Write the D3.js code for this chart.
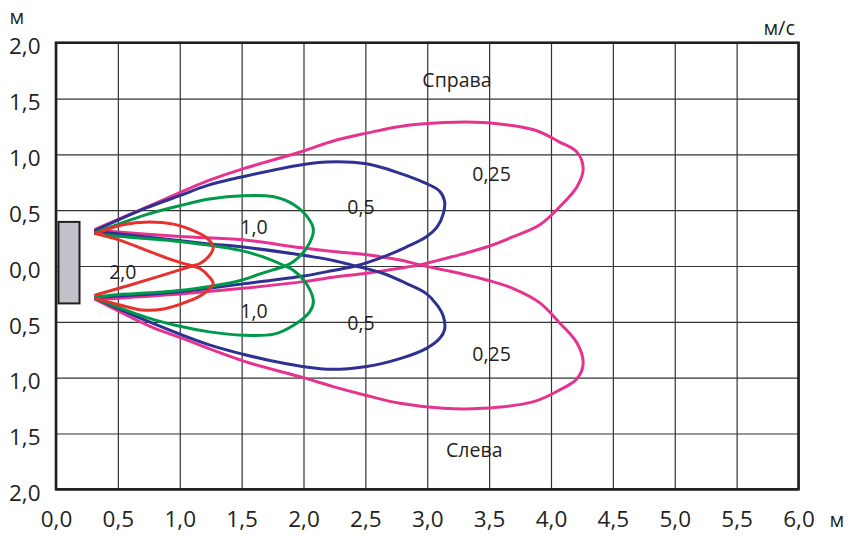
<!DOCTYPE html>
<html>
<head>
<meta charset="utf-8">
<script src="https://cdn.jsdelivr.net/npm/d3@7"></script>
<style>
  html, body { margin: 0; padding: 0; background: #fff; }
  svg { display: block; }
  text { font-family: "Open Sans", "DejaVu Sans", sans-serif; fill: #231f20; }
</style>
</head>
<body>
<svg id="chart" width="856" height="536"></svg>
<script>
// ---------- data ----------
const xTicks = [0, 0.5, 1, 1.5, 2, 2.5, 3, 3.5, 4, 4.5, 5, 5.5, 6];
const yTicks = [2, 1.5, 1, 0.5, 0, -0.5, -1, -1.5, -2];

// velocity levels (m/s)
const levels = ["0,25", "0,5", "1,0", "2,0"];

// upper lobes (Справа) : from upper outlet, around, back across axis to lower outlet
const pinkUpper = [[0.32,0.33],[0.76,0.54],[1.22,0.76],[1.51,0.87],[2.0,1.03],[2.24,1.12],[2.51,1.19],[2.78,1.25],[3.13,1.285],[3.45,1.285],[3.86,1.22],[4.07,1.11],[4.21,1.02],[4.26,0.87],[4.21,0.71],[4.07,0.53],[3.91,0.37],[3.69,0.26],[3.48,0.17],[3.26,0.10],[3.05,0.04],[2.94,0.01],[2.78,-0.02],[2.51,-0.065],[2.24,-0.10],[2.0,-0.14],[1.51,-0.20],[1.0,-0.25],[0.32,-0.30]];
const pinkLower = [[0.32,-0.30],[0.76,-0.54],[1.0,-0.64],[1.51,-0.85],[2.0,-1.0],[2.24,-1.08],[2.51,-1.16],[2.78,-1.23],[3.13,-1.275],[3.45,-1.275],[3.86,-1.215],[4.07,-1.11],[4.21,-1.01],[4.26,-0.87],[4.21,-0.69],[4.07,-0.51],[3.91,-0.33],[3.69,-0.20],[3.48,-0.125],[3.26,-0.065],[2.94,0.01],[2.78,0.054],[2.51,0.10],[2.24,0.13],[1.97,0.165],[1.51,0.235],[1.0,0.265],[0.32,0.32]];

const blueUpper = [[0.32,0.32],[0.73,0.52],[1.0,0.63],[1.22,0.72],[1.51,0.80],[2.0,0.91],[2.19,0.932],[2.51,0.915],[2.78,0.83],[2.99,0.74],[3.10,0.67],[3.14,0.58],[3.13,0.47],[3.08,0.35],[2.99,0.26],[2.83,0.17],[2.64,0.08],[2.42,0.0],[2.24,-0.04],[2.0,-0.09],[1.51,-0.16],[1.0,-0.23],[0.32,-0.28]];
const blueLower = [[0.32,-0.29],[0.73,-0.49],[1.22,-0.70],[1.51,-0.79],[1.86,-0.875],[2.19,-0.925],[2.51,-0.90],[2.78,-0.83],[2.99,-0.74],[3.10,-0.65],[3.14,-0.57],[3.13,-0.45],[3.08,-0.35],[2.99,-0.245],[2.83,-0.155],[2.64,-0.065],[2.42,0.0],[2.24,0.05],[1.97,0.10],[1.51,0.17],[1.22,0.20],[0.73,0.26],[0.32,0.31]];

const greenUpper = [[0.32,0.30],[0.73,0.46],[1.0,0.54],[1.24,0.60],[1.51,0.63],[1.76,0.62],[1.92,0.55],[2.05,0.41],[2.08,0.32],[2.03,0.17],[1.92,0.04],[1.85,0.0],[1.65,-0.07],[1.49,-0.13],[1.0,-0.22],[0.46,-0.26],[0.32,-0.28]];
const greenLower = [[0.32,-0.29],[0.73,-0.46],[1.0,-0.54],[1.24,-0.59],[1.51,-0.62],[1.76,-0.61],[1.92,-0.53],[2.05,-0.41],[2.08,-0.32],[2.03,-0.17],[1.92,-0.04],[1.85,0.0],[1.70,0.07],[1.49,0.14],[1.0,0.22],[0.46,0.27],[0.32,0.29]];

const redUpper = [[0.32,0.29],[0.54,0.37],[0.75,0.395],[0.95,0.375],[1.08,0.33],[1.22,0.25],[1.27,0.165],[1.23,0.08],[1.16,0.02],[1.10,0.0],[1.0,-0.035],[0.81,-0.10],[0.60,-0.17],[0.32,-0.26]];
const redLower = [[0.32,-0.29],[0.52,-0.35],[0.70,-0.395],[0.87,-0.385],[1.06,-0.32],[1.19,-0.25],[1.27,-0.16],[1.24,-0.10],[1.16,-0.02],[1.10,0.0],[0.95,0.05],[0.73,0.14],[0.52,0.23],[0.32,0.29]];

// outlet (grey box), metres
const outletX = [0.02, 0.19];
const outletY = [-0.335, 0.395];

// ---------- layout ----------
const svg = d3.select("#chart");
const L = 56, R = 798.5, T = 42.7, B = 489.3;
const x = d3.scaleLinear().domain([0, 6]).range([L, R]);
const y = d3.scaleLinear().domain([-2, 2]).range([B, T]);
const fmt = v => d3.format(".1f")(Math.abs(v)).replace(".", ",");

// grid via axes
const gx = svg.append("g").attr("transform", `translate(0,${B})`)
  .call(d3.axisBottom(x).tickValues(xTicks).tickSize(-(B - T)).tickFormat(fmt));
gx.select(".domain").remove();
gx.selectAll("line").attr("stroke", "#333").attr("stroke-width", 1.2);
gx.selectAll("text").attr("y", 37.6).attr("dy", 0)
  .style("font-size", "22.5px").style("font-family", '"Open Sans", sans-serif').attr("fill", "#231f20");

const gy = svg.append("g").attr("transform", `translate(${L},0)`)
  .call(d3.axisLeft(y).tickValues(yTicks).tickSize(-(R - L)).tickFormat(fmt));
gy.select(".domain").remove();
gy.selectAll("line").attr("stroke", "#333").attr("stroke-width", 1.2);
gy.selectAll("text").attr("x", -15.5).attr("y", 11.2).attr("dy", 0)
  .style("font-size", "22.5px").style("font-family", '"Open Sans", sans-serif').attr("fill", "#231f20");

// frame
svg.append("rect").attr("x", L).attr("y", T).attr("width", R - L).attr("height", B - T)
  .attr("fill", "none").attr("stroke", "#231f20").attr("stroke-width", 2.6);

// outlet box
svg.append("rect")
  .attr("x", x(outletX[0])).attr("y", y(outletY[1]))
  .attr("width", x(outletX[1]) - x(outletX[0]))
  .attr("height", y(outletY[0]) - y(outletY[1]))
  .attr("fill", "#bfc3c9").attr("stroke", "#231f20").attr("stroke-width", 2);

// curves
const line = d3.line().x(d => x(d[0])).y(d => y(d[1])).curve(d3.curveCatmullRom.alpha(0.5));
const series = [
  { pts: pinkUpper, color: "#e6338f" },
  { pts: pinkLower, color: "#e6338f" },
  { pts: blueUpper, color: "#2e3192" },
  { pts: blueLower, color: "#2e3192" },
  { pts: greenUpper, color: "#00994a" },
  { pts: greenLower, color: "#00994a" },
  { pts: redUpper, color: "#e8302c" },
  { pts: redLower, color: "#e8302c" }
];
svg.append("g").selectAll("path").data(series).join("path")
  .attr("d", d => line(d.pts))
  .attr("fill", "none").attr("stroke", d => d.color)
  .attr("stroke-width", 3).attr("stroke-linejoin", "round").attr("stroke-linecap", "round");

// curve labels (data coordinates)
const labels = [
  { t: levels[3], x: 0.54, y: -0.12 },
  { t: levels[2], x: 1.6, y: 0.29 },
  { t: levels[2], x: 1.6, y: -0.47 },
  { t: levels[1], x: 2.465, y: 0.47 },
  { t: levels[1], x: 2.465, y: -0.57 },
  { t: levels[0], x: 3.52, y: 0.76 },
  { t: levels[0], x: 3.52, y: -0.85 }
];
svg.append("g").selectAll("text").data(labels).join("text")
  .attr("x", d => x(d.x)).attr("y", d => y(d.y))
  .attr("text-anchor", "middle").style("font-size", "19.5px")
  .text(d => d.t);

// side labels
svg.append("text").attr("x", x(3.24)).attr("y", y(1.606)).attr("text-anchor", "middle")
  .style("font-size", "19.5px").text("Справа");
svg.append("text").attr("x", x(3.38)).attr("y", y(-1.715)).attr("text-anchor", "middle")
  .style("font-size", "19.5px").text("Слева");

// unit labels
svg.append("text").attr("x", 9.5).attr("y", 24).style("font-size", "20px").text("м");
svg.append("text").attr("x", 795).attr("y", 35).attr("text-anchor", "end").style("font-size", "20px").text("м/с");
svg.append("text").attr("x", 829.5).attr("y", 526.7).style("font-size", "20px").text("м");
</script>
</body>
</html>
